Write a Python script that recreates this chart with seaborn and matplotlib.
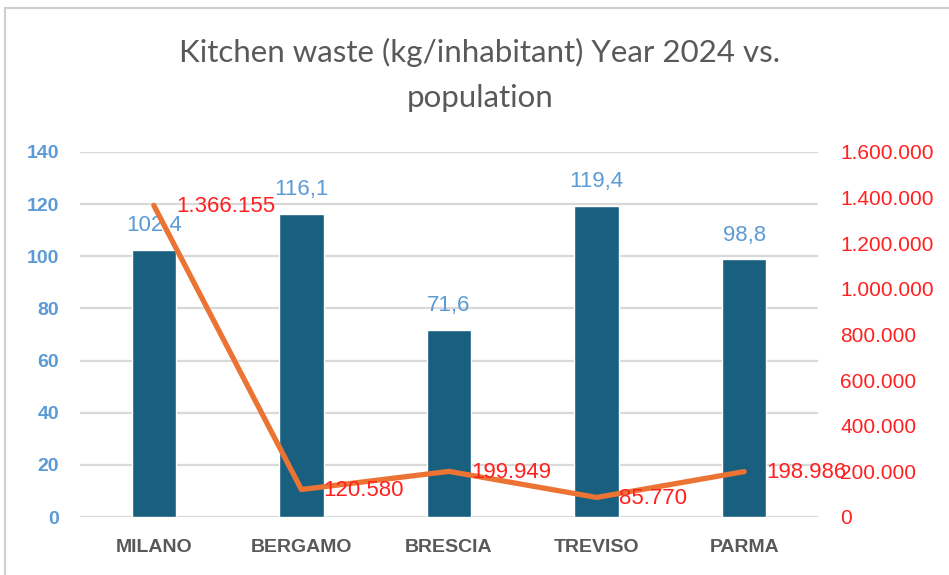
#!/usr/bin/env python3
import numpy as np
import pandas as pd
import seaborn as sns
import matplotlib.pyplot as plt
from matplotlib.patches import Rectangle

cities = ["MILANO", "BERGAMO", "BRESCIA", "TREVISO", "PARMA"]
waste_kg = [102.4, 116.1, 71.6, 119.4, 98.8]
population = [1366155, 120580, 199949, 85770, 198986]
left_ticks = [0, 20, 40, 60, 80, 100, 120, 140]
right_ticks = [0, 200000, 400000, 600000, 800000, 1000000, 1200000, 1400000, 1600000]

bar_color = "#185F80"
line_color = "#EB7434"
blue_txt = "#5B9BD5"
red_txt = "#FF2020"
gray_txt = "#595959"


def it_thousands(v):
    return f"{int(v):,}".replace(",", ".")


df = pd.DataFrame({"city": cities, "waste": waste_kg, "pop": population})

sns.set_style("white")
plt.rcParams["font.family"] = ["Liberation Sans", "DejaVu Sans"]

fig = plt.figure(figsize=(9.49, 5.75), dpi=100)
ax = fig.add_axes([80 / 949, 1 - 517 / 575, 738 / 949, 365 / 575])

sns.barplot(data=df, x="city", y="waste", color=bar_color, width=0.3,
            saturation=1, ax=ax, zorder=2)
ax.set_ylim(0, 140)
ax.set_xlim(-0.5, len(cities) - 0.5)
ax.set_yticks(left_ticks)
ax.set_yticklabels([str(t) for t in left_ticks], color=blue_txt,
                   fontweight="bold", fontsize=14)
ax.tick_params(axis="y", length=0, pad=15)
ax.tick_params(axis="x", length=0, pad=16)
for lab in ax.get_xticklabels():
    lab.set_color(gray_txt)
    lab.set_fontweight("bold")
    lab.set_fontsize(14)
ax.set_xlabel("")
ax.set_ylabel("")
ax.yaxis.grid(True, color="#D9D9D9", linewidth=1.6, zorder=0)
ax.set_axisbelow(True)
for s in ax.spines.values():
    s.set_visible(False)

ax.bar_label(ax.containers[0],
             labels=[f"{v:.1f}".replace(".", ",") for v in waste_kg],
             padding=10, color=blue_txt, fontsize=16)

ax2 = ax.twinx()
sns.lineplot(x=np.arange(len(cities)), y=population, ax=ax2, color=line_color,
             linewidth=3.8, sort=False, zorder=3)
ax2.set_ylim(0, 1600000)
ax2.set_yticks(right_ticks)
ax2.set_yticklabels([it_thousands(t) for t in right_ticks], color=red_txt,
                    fontsize=15)
ax2.tick_params(axis="y", length=0, pad=16)
ax2.set_ylabel("")
for s in ax2.spines.values():
    s.set_visible(False)

for i, p in enumerate(population):
    ax2.annotate(it_thousands(p), (i, p), xytext=(16, -1),
                 textcoords="offset points", ha="left", va="center",
                 color=red_txt, fontsize=16)

fig.text(480 / 949, 1 - 62 / 575, "Kitchen waste (kg/inhabitant) Year 2024 vs.",
         ha="center", va="baseline", fontsize=22.5, color=gray_txt,
         family=["Lato", "DejaVu Sans"])
fig.text(480 / 949, 1 - 107 / 575, "population",
         ha="center", va="baseline", fontsize=22.5, color=gray_txt,
         family=["Lato", "DejaVu Sans"])

fig.patches.append(Rectangle((5 / 949, -0.02), 1.0, 1 - 8 / 575 + 0.02,
                             transform=fig.transFigure, fill=False,
                             edgecolor="#D0D0D0", linewidth=1.5))

fig.savefig("out.png", dpi=100)
